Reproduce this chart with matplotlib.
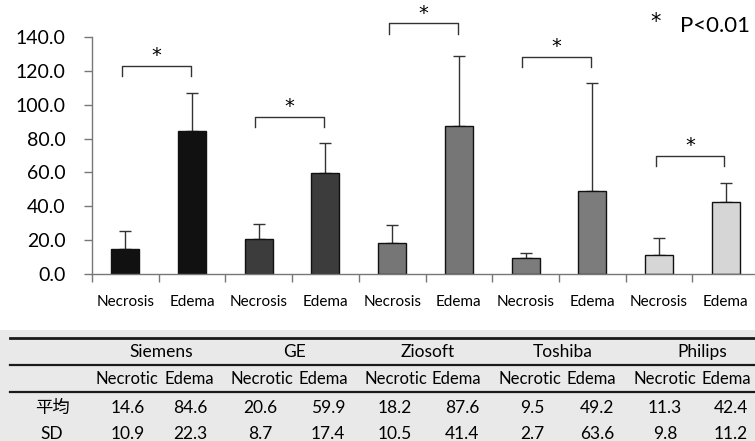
import numpy as np
import matplotlib
matplotlib.use('Agg')
import matplotlib.pyplot as plt
from matplotlib.lines import Line2D
from matplotlib.patches import Rectangle

plt.rcParams['font.family'] = ['Lato', 'Noto Sans CJK JP', 'DejaVu Sans']

vendors = ['Siemens', 'GE', 'Ziosoft', 'Toshiba', 'Philips']
bar_labels = ['Necrosis', 'Edema']
table_sub = ['Necrotic', 'Edema']
necrotic_mean = [14.6, 20.6, 18.2, 9.5, 11.3]
edema_mean = [84.6, 59.9, 87.6, 49.2, 42.4]
necrotic_sd = [10.9, 8.7, 10.5, 2.7, 9.8]
edema_sd = [22.3, 17.4, 41.4, 63.6, 11.2]
bracket_level = [123, 93, 148, 128, 70]
vendor_colors = ['#111111', '#3c3c3c', '#767676', '#7c7c7c', '#d6d6d6']

W, H = 755, 441
fig = plt.figure(figsize=(W / 100, H / 100), dpi=100)

# light grey screen behind the table
fig.add_artist(Rectangle((0, 0), 1, 1 - 330 / H, transform=fig.transFigure,
                         facecolor='#e9e9e9', edgecolor='none', zorder=0))

ax = fig.add_axes([92 / W, (H - 274) / H, 667 / W, 237 / H])

means, sds, colors, labels = [], [], [], []
for i in range(len(vendors)):
    means += [necrotic_mean[i], edema_mean[i]]
    sds += [necrotic_sd[i], edema_sd[i]]
    colors += [vendor_colors[i]] * 2
    labels += bar_labels
x = np.arange(len(means))

ax.bar(x, means, width=0.42, color=colors, edgecolor='#111111', linewidth=1.0, zorder=2)
ax.errorbar(x, means, yerr=[np.zeros(len(sds)), sds], fmt='none', ecolor='#333333',
            elinewidth=1.0, capsize=4, capthick=1.0, zorder=1)

# significance brackets
for i, lvl in enumerate(bracket_level):
    x0, x1 = 2 * i - 0.05, 2 * i + 1 - 0.02
    ax.plot([x0, x0, x1, x1], [lvl - 6, lvl, lvl, lvl - 6], color='#333333',
            lw=1.0, clip_on=False)
    ax.text((x0 + x1) / 2, lvl + 0.5, '*', ha='center', va='bottom', fontsize=14,
            family='DejaVu Sans', clip_on=False)

ax.set_xlim(-0.5, len(means) - 0.5)
ax.set_ylim(0, 140)
ax.set_yticks(np.arange(0, 141, 20))
ax.set_yticklabels([f'{v:.1f}' for v in np.arange(0, 141, 20)], fontsize=14)
ax.set_xticks(x)
ax.set_xticklabels(labels, fontsize=11)
ax.set_xticks(np.arange(-0.5, len(means), 1), minor=True)
ax.tick_params(axis='x', which='major', length=0, pad=15)
ax.tick_params(axis='x', which='minor', length=6, color='#777777', width=1)
ax.tick_params(axis='y', length=6, color='#777777', width=1, pad=13)
for s in ['top', 'right']:
    ax.spines[s].set_visible(False)
for s in ['left', 'bottom']:
    ax.spines[s].set_color('#777777')
    ax.spines[s].set_linewidth(1.0)

fig.text(656 / W, 1 - 22 / H, '*', ha='center', va='center', fontsize=15,
         family='DejaVu Sans')
fig.text(680 / W, 1 - 26 / H, 'P<0.01', ha='left', va='center', fontsize=16)


# table
def ftext(px, py, s, **kw):
    fig.text(px / W, 1 - py / H, s, ha='center', va='center', **kw)


def hline(py, lw):
    fig.add_artist(Line2D([10 / W, 1], [1 - py / H, 1 - py / H], color='#1a1a1a',
                          lw=lw, transform=fig.transFigure))


hline(338, 2.0)
hline(365, 1.6)
hline(392, 1.6)

vendor_x = [161, 295, 428, 563, 702]
nec_x = [127, 262, 396, 530, 665]
ede_x = [189, 323, 456, 591, 726]
nec_val_x = [128, 260, 395, 532, 665]
ede_val_x = [190, 328, 462, 597, 731]
for i, v in enumerate(vendors):
    ftext(vendor_x[i], 352, v, fontsize=12.5)
    ftext(nec_x[i], 379, table_sub[0], fontsize=12)
    ftext(ede_x[i], 379, table_sub[1], fontsize=12)
    ftext(nec_val_x[i], 408, f'{necrotic_mean[i]:.1f}', fontsize=12.5)
    ftext(ede_val_x[i], 408, f'{edema_mean[i]:.1f}', fontsize=12.5)
    ftext(nec_val_x[i], 434, f'{necrotic_sd[i]:.1f}', fontsize=12.5)
    ftext(ede_val_x[i], 434, f'{edema_sd[i]:.1f}', fontsize=12.5)
ftext(52, 408, '平均', fontsize=12.5)
ftext(52, 434, 'SD', fontsize=12.5)

fig.savefig('out.png', dpi=100)
